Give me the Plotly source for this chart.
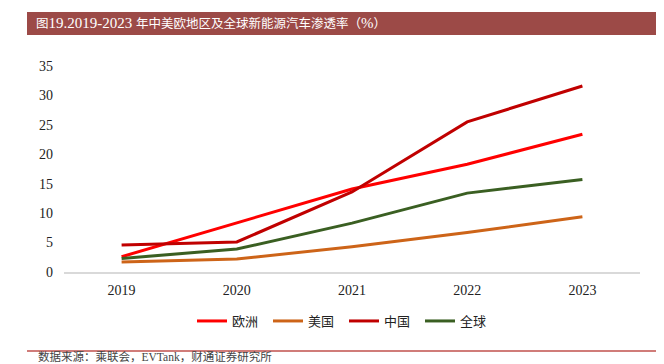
import plotly.graph_objects as go

years = ["2019", "2020", "2021", "2022", "2023"]
europe = [2.6, 8.3, 14.1, 18.3, 23.4]
usa = [1.7, 2.2, 4.3, 6.7, 9.4]
china = [4.6, 5.1, 13.6, 25.5, 31.6]
world = [2.3, 3.9, 8.3, 13.4, 15.7]

series_names = ["欧洲", "美国", "中国", "全球"]
series_colors = ["#FF0000", "#CD6418", "#C00000", "#3A5F22"]
y_ticks = [0, 5, 10, 15, 20, 25, 30, 35]

FONT = "Liberation Serif, Times New Roman, Noto Sans CJK SC, serif"

# page body has an 8px margin; draw in page coordinates shifted by OFF
OFF = 8
W, H = 664 - OFF, 364 - OFF
TOP, BOT, LEFT, RIGHT = 66 - OFF, 272 - OFF, 64 - OFF, 640 - OFF

fig = go.Figure()
for name, vals, col in zip(series_names, [europe, usa, china, world], series_colors):
    fig.add_trace(go.Scatter(x=years, y=vals, name=name, mode="lines",
                             line=dict(color=col, width=3), cliponaxis=False))

pw = RIGHT - LEFT
ph = BOT - TOP
def px(x):
    return (x - OFF - LEFT) / pw
def py(y):
    return (BOT - (y - OFF)) / ph

fig.update_layout(
    width=W, height=H,
    margin=dict(l=LEFT, r=W - RIGHT, t=TOP, b=H - BOT),
    paper_bgcolor="white", plot_bgcolor="white",
    font=dict(family=FONT, size=14, color="#222"),
    showlegend=True,
    legend=dict(orientation="h", x=px(344), xanchor="center", y=py(321),
                yanchor="middle",
                font=dict(size=13, family="Noto Sans CJK SC, sans-serif", color="#222"),
                itemwidth=30, traceorder="normal", entrywidth=31, entrywidthmode="pixels"),
    xaxis=dict(type="category", range=[-0.5, 4.5], showgrid=False, zeroline=False,
               showline=True, linecolor="#D9D9D9", linewidth=1.5, ticks="",
               tickfont=dict(size=14, family=FONT), ticklabelstandoff=4),
    yaxis=dict(range=[0, 35], tickvals=y_ticks, showgrid=False,
               zeroline=False, showline=False, ticks="", tickfont=dict(size=14, family=FONT),
               ticklabelstandoff=10),
)

fig.add_shape(type="rect", xref="paper", yref="paper", x0=px(27), x1=px(672),
              y0=py(35), y1=py(12), fillcolor="#9C4A47", line=dict(width=0))
fig.add_shape(type="line", xref="paper", yref="paper", x0=px(27), x1=px(672),
              y0=py(351), y1=py(351), line=dict(color="#C0504D", width=1.5))
title_txt = ('<span style="font-size:12.5px">图</span>19.2019-2023 '
             '<span style="font-size:12.5px">年中美欧地区及全球新能源汽车渗透率（</span>%'
             '<span style="font-size:12.5px">）</span>')
fig.add_annotation(xref="paper", yref="paper", x=px(34), y=py(23.5), xanchor="left",
                   yanchor="middle", showarrow=False, text=title_txt,
                   font=dict(color="white", size=15, family=FONT))
fig.add_annotation(xref="paper", yref="paper", x=px(36), y=py(356.5), xanchor="left",
                   yanchor="middle", showarrow=False,
                   text="数据来源：乘联会，EVTank，财通证券研究所",
                   font=dict(color="#444", size=11.5, family=FONT))

fig.write_html("out.html")
